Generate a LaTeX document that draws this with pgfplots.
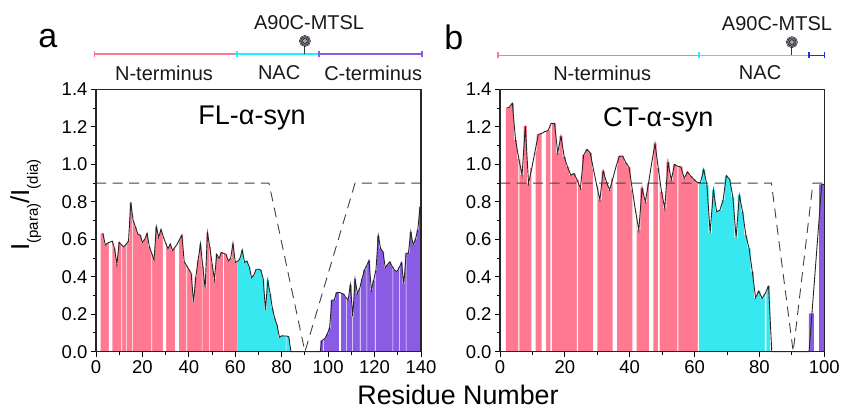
\documentclass[border=0pt]{standalone}
\usepackage{fontspec}
\setmainfont{Liberation Sans}
\usepackage{pgfplots}
\usepackage{pgfplotstable}
\pgfplotsset{compat=1.18}
\definecolor{cpink}{HTML}{FF7A90}
\definecolor{ccyan}{HTML}{38E8F0}
\definecolor{cpurp}{HTML}{8A5CE6}
\definecolor{cblue}{HTML}{2030E0}
\definecolor{cdom}{HTML}{FF7A90}
\definecolor{cdomc}{HTML}{20F0F8}
\pgfplotstableread{
x v
2.5 .63
3 .63
4 .57
5 .58
6 .585
7 .59
8 .55
9 .466
10 .584
11 .57
12 .56
13 .575
14 .59
15 .797
16 .70
17 .667
18 .628
19 .623
20 .584
21 .60
22 .632
23 .56
24 .525
25 .49
26 .667
27 .61
28 .653
29 .614
30 .58
31 .55
32 .575
33 .54
34 .557
35 .575
36 .60
37 .623
38 .48
39 .46
40 .44
41 .418
42 .263
43 .40
44 .49
45 .575
46 .455
47 .338
48 .635
49 .56
50 .47
51 .386
52 .52
53 .498
54 .53
55 .525
56 .52
57 .484
58 .498
59 .578
60 .477
60.4 .48
}\fpink
\pgfplotstableread{
x v
61.4 .486
62 .498
63 .543
64 .477
65 .484
66 .454
67 .395
68 .41
69 .44
70 .44
71 .436
72 .39
73 .222
74 .382
75 .31
76 .23
77 .178
78 .142
79 .077
80 .085
81 .084
82 .084
83 .08
}\fcyan
\pgfplotstableread{
x v
97.2 .059
98.6 .07
99.6 .094
100.6 .125
101.6 .276
102.6 .276
103.6 .315
104.6 .317
105.6 .313
106.6 .308
107.6 .29
108.6 .276
109.6 .356
110.6 .187
111.6 .388
112.6 .311
113.6 .338
114.6 .39
115.6 .436
116.6 .46
117.6 .487
118.6 .329
119.6 .38
120.6 .436
121.6 .62
122.6 .55
123.6 .534
124.6 .448
125.6 .465
126.6 .48
127.6 .455
128.6 .436
129.6 .427
130.6 .45
131.6 .475
132.6 .361
133.6 .525
134.6 .528
135.6 .64
136.6 .57
137.6 .60
138.6 .65
139.6 .774
}\fpurp
\pgfplotstableread{
x v
2.3 1.304
2.8 1.304
3.8 1.326
4.8 1.13
5.8 1.03
6.8 .943
7.8 1.206
8.8 .899
9.8 .98
10.8 1.07
11.8 1.16
12.8 1.165
13.8 1.175
14.8 1.18
15.8 1.219
16.8 1.219
17.8 1.062
18.8 1.151
19.8 1.04
20.8 .988
21.8 .943
22.8 .952
23.8 .916
24.8 .872
25.8 1.05
26.8 1.08
27.8 1.062
28.8 .975
29.8 .89
30.8 .81
31.8 .966
32.8 .907
33.8 .863
34.8 .925
35.8 .99
36.8 1.044
37.8 1.044
38.8 1.01
39.8 .984
40.8 .865
41.8 .75
42.8 .649
43.8 .875
44.8 .80
45.8 .90
46.8 1.01
47.8 1.112
48.8 .98
49.8 .854
50.8 .765
51.8 1.014
52.8 .916
53.8 1.0
54.8 .99
55.8 .987
56.8 .925
57.8 .96
58.8 .938
59.8 .92
60.8 .904
}\cpinkd
\pgfplotstableread{
x v
61.8 .902
62.8 .973
63.8 .89
64.8 .635
65.8 .863
66.8 .747
67.8 .756
68.8 .81
69.8 .94
70.8 .92
71.8 .827
72.8 .609
73.8 .836
74.8 .747
75.8 .623
76.8 .552
77.8 .427
78.8 .288
79.8 .324
80.8 .285
81.8 .311
82.8 .352
}\ccyand
\tikzset{lab/.style={font=\fontsize{20}{24}\selectfont,text=black!90}}
\pgfplotsset{
 panel/.style={
  scale only axis, height=262.2pt, ymin=0, ymax=1.4,
  anchor=south west, clip=false, axis on top=true,
  ybar, bar shift=0pt,
  ytick={0,.2,.4,.6,.8,1,1.2,1.4}, minor y tick num=1, minor x tick num=1,
  xtick pos=bottom, ytick pos=left, tick align=outside,
  major tick length=5pt, minor tick length=3pt,
  every tick/.style={black,line width=1pt},
  axis line style={line width=1.5pt,black!85},
  /pgf/number format/assume math mode=true,
  yticklabel style={/pgf/number format/fixed,/pgf/number format/fixed zerofill,/pgf/number format/precision=1},
  tick label style={font=\fontsize{18.5}{22}\selectfont},
 },
 b/.style={ybar,bar width=1,draw=none,fill=#1},
 g/.style={ybar,bar width=#1,draw=none,fill=white,forget plot},
 ln/.style={sharp plot,draw=black!85,line width=.9pt,mark=none},
 dsh/.style={sharp plot,draw=black!75,line width=.9pt,dash pattern=on 10pt off 6.5pt,mark=none},
 dom/.style={sharp plot,draw=#1,line width=1.7pt,mark=|,mark size=3pt,mark options={solid,draw=#1,line width=1.4pt}},
 stick/.style={sharp plot,draw=black!80,line width=1pt,mark=none},
 m/.style={sharp plot,draw=none,only marks,mark=*,mark size=#1},
}
\begin{document}
\begin{tikzpicture}[x=1pt,y=1pt]
\useasboundingbox (0,0) rectangle (843,409);
\begin{axis}[panel, at={(96pt,57.3pt)}, width=325pt, xmin=0, xmax=140,
 xtick={0,20,...,140}]
\addplot[b=cpink] table[x=x,y=v] {\fpink};
\addplot[b=ccyan] table[x=x,y=v] {\fcyan};
\addplot[b=cpurp] table[x=x,y=v] {\fpurp};
\addplot[g=.28] coordinates {(11.06,1.2)(13.07,1.2)(15.66,1.2)(24,1.2)(39.08,1.2)(45.7,1.2)(48.85,1.2)(54.9,1.2)(107.97,1.2)(113.8,1.2)(116.7,1.2)(120.3,1.2)(127.9,1.2)(130.7,1.2)(133.6,1.2)};
\addplot[g=.2] coordinates {(81.9,.084)(110.5,1.2)};
\addplot[g=1.44] coordinates {(6.3,1.2)(29.5,1.2)};
\addplot[g=1.87] coordinates {(35,1.2)};
\addplot[g=.9] coordinates {(105.2,1.2)};
\addplot[ln] table[x=x,y=v] {\fpink};
\addplot[ln] coordinates {(60.4,.48)(61.4,.486)};
\addplot[ln] table[x=x,y=v] {\fcyan};
\addplot[ln] coordinates {(83,.08)(84,0)(96.6,0)(97.2,.059)};
\addplot[ln] table[x=x,y=v] {\fpurp};
\addplot[dsh] coordinates {(0,.9)(74.5,.9)(90,0)(111.6,.9)(140,.9)};
\addplot[dom=cdom] coordinates {(-.6,1.589)(60.8,1.589)};
\addplot[dom=cdomc] coordinates {(60.8,1.589)(96,1.589)};
\addplot[dom=cpurp] coordinates {(96,1.589)(140.5,1.589)};
\addplot[stick] coordinates {(90,1.589)(90,1.64)};
\addplot[m=5.6pt,mark options={fill=cpurp!35,draw=none}] coordinates {(90,1.659)};
\addplot[m=4.4pt,mark options={fill=black!55,draw=none}] coordinates {(90,1.659)};
\addplot[m=2.4pt,mark options={fill=black!35,draw=none}] coordinates {(90,1.659)};
\node[lab] at (axis cs:29.3,1.488) {N-terminus};
\node[lab] at (axis cs:78.9,1.488) {NAC};
\node[lab] at (axis cs:119.4,1.488) {C-terminus};
\node[lab] at (axis cs:91.8,1.755) {A90C-MTSL};
\node[font=\fontsize{34}{40}\selectfont] at (axis cs:-20.7,1.67) {a};
\node[font=\fontsize{27}{32}\selectfont] at (axis cs:67.2,1.25) {FL-α-syn};
\end{axis}
\begin{axis}[panel, at={(500pt,57.3pt)}, width=324.3pt, xmin=0, xmax=100,
 xtick={0,20,...,100}]
\addplot[b=cpink] table[x=x,y=v] {\cpinkd};
\addplot[b=ccyan] table[x=x,y=v] {\ccyand};
\addplot[ybar,bar width=1.55,draw=none,fill=cpurp] coordinates {(96,.205)(99.15,.893)};
\addplot[g=.3] coordinates {(5.81,1.4)(23.84,1.4)(54.88,1.4)(61.15,1.4)};
\addplot[g=.5] coordinates {(15.78,1.4)(49,1.4)(81.9,1.4)};
\addplot[g=1.3] coordinates {(10.33,1.4)(13.46,1.4)(29.4,1.4)(35.35,1.4)(41.47,1.4)(46.66,1.4)};
\addplot[ln] table[x=x,y=v] {\cpinkd};
\addplot[ln] coordinates {(60.8,.904)(61.8,.902)};
\addplot[ln] table[x=x,y=v] {\ccyand};
\addplot[ln] coordinates {(82.8,.352)(83.8,0)(95.3,0)(99.2,.893)(100,.893)};
\addplot[dsh] coordinates {(0,.9)(83.7,.9)(90.4,0)(96.5,.9)(100,.9)};
\addplot[dom=cdom] coordinates {(-.6,1.582)(61.4,1.582)};
\addplot[dom=cdomc] coordinates {(61.4,1.582)(95.3,1.582)};
\addplot[dom=cblue] coordinates {(95.3,1.582)(100,1.582)};
\addplot[stick] coordinates {(90,1.582)(90,1.64)};
\addplot[m=5.6pt,mark options={fill=cpurp!35,draw=none}] coordinates {(90,1.653)};
\addplot[m=4.4pt,mark options={fill=black!55,draw=none}] coordinates {(90,1.653)};
\addplot[m=2.4pt,mark options={fill=black!35,draw=none}] coordinates {(90,1.653)};
\node[lab] at (axis cs:31.5,1.488) {N-terminus};
\node[lab] at (axis cs:80.2,1.488) {NAC};
\node[lab] at (axis cs:85.4,1.75) {A90C-MTSL};
\node[font=\fontsize{34}{40}\selectfont] at (axis cs:-14.2,1.68) {b};
\node[font=\fontsize{27}{32}\selectfont] at (axis cs:48.8,1.24) {CT-α-syn};
\end{axis}
\node[font=\fontsize{26.8}{31}\selectfont,anchor=base,inner sep=0pt] at (458,4.5) {Residue Number};
\node[font=\fontsize{26}{31}\selectfont,rotate=90,anchor=base] at (29,204) {I\raisebox{-9pt}{\fontsize{15}{18}\selectfont (para)}/I\raisebox{-9pt}{\fontsize{15}{18}\selectfont (dia)}};
\end{tikzpicture}
\end{document}
